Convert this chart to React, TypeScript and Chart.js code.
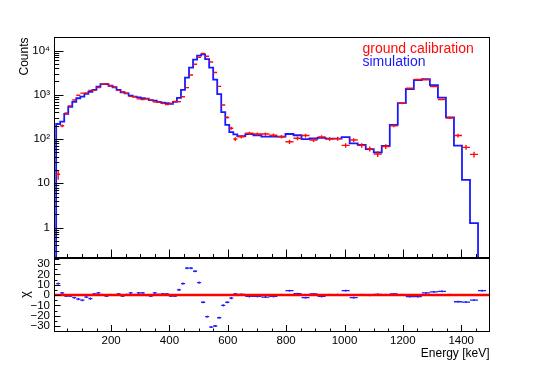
import React, { useEffect, useRef } from 'react';
import { Chart, registerables } from 'chart.js';

Chart.register(...registerables);

// ---------------- data ----------------
// bin edges in keV (variable binning: 45 narrow bins, then wide bins)
const binEdges = [
  11.7, 25.5, 39.3, 53.1, 66.9, 80.7, 94.5, 108.3, 122.1, 135.9,
  149.7, 163.5, 177.3, 191.1, 204.9, 218.7, 232.5, 246.3, 260.1, 273.9,
  287.7, 301.5, 315.3, 329.1, 342.9, 356.7, 370.5, 384.3, 398.1, 411.9,
  425.7, 439.5, 453.3, 467.1, 480.9, 494.7, 508.5, 522.3, 536.1, 549.9,
  563.7, 577.5, 591.3, 605.1, 618.9, 632.7,
  660.2, 687.7, 715.2, 742.7, 770.2, 797.7, 825.2, 852.7, 880.2, 907.7,
  935.2, 962.7, 990.2, 1017.7, 1045.2, 1072.7, 1100.2, 1127.7, 1155.2, 1182.7,
  1210.2, 1237.7, 1265.2, 1292.7, 1320.2, 1347.7, 1375.2, 1402.7, 1430.2, 1457.7,
  1485.2,
];

// simulation histogram (counts per bin)
const simCounts = [
  219, 247, 370, 537, 695, 835, 910, 1050, 1170, 1290,
  1520, 1750, 1750, 1600, 1480, 1290, 1140, 1080, 955, 910,
  875, 835, 815, 760, 735, 695, 665, 645, 625, 690,
  850, 1290, 2450, 4100, 6200, 7700, 8200, 6400, 4100, 2200,
  1030, 405, 208, 144, 127,
  117, 129, 122, 113, 113, 113, 130, 122, 100, 103,
  106, 102, 102, 110, 80, 74, 59, 50, 70, 208,
  645, 1350, 2150, 2270, 1660, 860, 310, 71, 12, 1.26,
];

// ground calibration measurement (counts per bin)
const calibCounts = [
  16, 200, 385, 560, 764, 980, 1090, 1100, 1260, 1260,
  1460, 1740, 1780, 1600, 1480, 1260, 1160, 1080, 920, 900,
  810, 780, 810, 760, 690, 680, 640, 605, 640, 710,
  700, 900, 1450, 2800, 4900, 7000, 8600, 7400, 5500, 3200,
  1550, 590, 308, 176, 100,
  113, 135, 130, 130, 122, 113, 87, 104, 120, 95,
  112, 100, 102, 72, 95, 72, 60, 46, 68, 198,
  640, 1410, 2220, 2180, 1540, 780, 300, 120, 65, 45,
];

// residuals (chi) per bin
const chiValues = [
  11, 2, -1, -1, -2.6, -4, -5, -2, -3.5, 1,
  2, 0.3, -1, 0.2, 0, 1, -1, 0.4, 2, 0.3,
  2, 2, -0.3, -1, 2, 0.5, 1, 1, -1, -1,
  5, 11, 26, 26, 23, 12, -7, -21, -31, -30,
  -22, -10, -7, -3, 1,
  0.7, -1.3, -1.3, -2, -1.3, 0.3, 4.2, 1.3, -2.6, 1,
  -1.3, 0.3, 0.2, 4.2, -2.6, 0.3, -0.3, 0.6, 0.2, 1,
  0.3, -1.6, -1.6, 2, 3, 3.6, 0.3, -6.5, -6.8, -4.9,
  4.2,
];

const energyTicks = [200, 400, 600, 800, 1000, 1200, 1400];
const countTicks = [1, 10, 100, 1000, 10000];
const countTickLabels = ['1', '10', '10²', '10³', '10⁴'];
const chiTicks = [-30, -20, -10, 0, 10, 20, 30];
const chiTickLabels = ['−30', '−20', '−10', '0', '10', '20', '30'];
const legendLabels = ['ground calibration', 'simulation'];

// ---------------- style / layout ----------------
const X_MIN = 6;
const X_MAX = 1497;
const Y_MIN = 0.2;
const Y_MAX = 19700;
const CHI_MIN = -35.3;
const CHI_MAX = 36.3;
const MINOR_STEP = 50;

const SIM_COLOR = 'rgb(25,25,255)';
const DATA_COLOR = 'rgb(255,10,10)';
const FONT = '"Liberation Sans", Arial, Helvetica, sans-serif';
const legendColors = [DATA_COLOR, SIM_COLOR];

Chart.defaults.font.family = FONT;
Chart.defaults.color = '#000';

function histPoints(vals: number[], floor: number) {
  const pts: any[] = [{ x: binEdges[0], y: floor }];
  vals.forEach((v, i) => pts.push({ x: binEdges[i], y: v }));
  pts.push({ x: binEdges[vals.length], y: floor });
  return pts;
}

function crossPoints(vals: number[], err: (v: number) => number) {
  const pts: any[] = [];
  vals.forEach((v, i) => {
    const lo = binEdges[i];
    const hi = binEdges[i + 1];
    const c = (lo + hi) / 2;
    const e = err(v);
    pts.push({ x: lo, y: v }, { x: hi, y: v }, { x: c, y: null });
    pts.push({ x: c, y: v - e }, { x: c, y: v + e }, { x: c, y: null });
  });
  return pts;
}

function fixBox(w: number | null, h: number | null) {
  return (s: any) => {
    if (w !== null) s.width = w;
    if (h !== null) s.height = h;
    s.paddingTop = 0;
    s.paddingBottom = 0;
    s.paddingLeft = 0;
    s.paddingRight = 0;
  };
}

function makeFramePlugin(id: string, xMaj: number, xMin: number, yTickFn: () => { v: number; len: number }[]) {
  return {
    id,
    afterDraw(chart: any) {
      const { ctx, chartArea: a } = chart;
      const xs = chart.scales.x;
      const ys = chart.scales.y;
      ctx.save();
      ctx.strokeStyle = '#000';
      ctx.lineWidth = 1;
      ctx.beginPath();
      for (let e = MINOR_STEP; e < X_MAX; e += MINOR_STEP) {
        if (e <= X_MIN) continue;
        const px = Math.round(xs.getPixelForValue(e)) + 0.5;
        const len = e % 200 === 0 ? xMaj : xMin;
        ctx.moveTo(px, a.bottom);
        ctx.lineTo(px, a.bottom - len);
      }
      for (const t of yTickFn()) {
        const py = Math.round(ys.getPixelForValue(t.v)) + 0.5;
        ctx.moveTo(a.left, py);
        ctx.lineTo(a.left + t.len, py);
      }
      ctx.stroke();
      ctx.strokeRect(a.left, a.top, a.right - a.left, a.bottom - a.top);
      ctx.restore();
    },
  };
}

const topFrame = makeFramePlugin('topFrame', 9, 4.5, () => {
  const out: { v: number; len: number }[] = [];
  for (let d = 0.1; d <= 10000; d *= 10) {
    for (let m = 1; m <= 9; m++) {
      const v = m * d;
      if (v < Y_MIN || v > Y_MAX) continue;
      out.push({ v, len: m === 1 ? 9 : 4.7 });
    }
  }
  return out;
});

const bottomFrame = makeFramePlugin('bottomFrame', 6.5, 3, () => {
  const out: { v: number; len: number }[] = [];
  for (let v = -35; v <= 35; v += 5) {
    if (v < CHI_MIN || v > CHI_MAX) continue;
    out.push({ v, len: v % 10 === 0 ? 6 : 3 });
  }
  return out;
});

const legendPlugin = {
  id: 'rootLegend',
  afterDraw(chart: any) {
    const ctx = chart.ctx;
    ctx.save();
    ctx.font = '14px ' + FONT;
    ctx.textAlign = 'left';
    ctx.textBaseline = 'alphabetic';
    legendLabels.forEach((t, i) => {
      ctx.fillStyle = legendColors[i];
      ctx.fillText(t, 362.5, 53 + i * 12.6);
    });
    ctx.restore();
  },
};

const noGrid = { display: false, drawTicks: false };

function topConfig(): any {
  return {
    type: 'line',
    data: {
      datasets: [
        {
          label: legendLabels[0],
          data: crossPoints(calibCounts, (v) => Math.sqrt(v)),
          borderColor: DATA_COLOR,
          borderWidth: 1.4,
          pointRadius: 0,
          spanGaps: false,
          fill: false,
        },
        {
          label: legendLabels[1],
          data: histPoints(simCounts, 0.02),
          stepped: 'before',
          borderColor: SIM_COLOR,
          borderWidth: 1.8,
          pointRadius: 0,
          fill: false,
        },
      ],
    },
    options: {
      responsive: false,
      maintainAspectRatio: false,
      animation: false,
      events: [],
      layout: { padding: { top: 37.5, right: 55.5, bottom: 0, left: 0 } },
      plugins: { legend: { display: false }, tooltip: { enabled: false }, title: { display: false } },
      scales: {
        x: {
          type: 'linear',
          min: X_MIN,
          max: X_MAX,
          grid: noGrid,
          border: { display: false },
          ticks: { display: false },
          afterFit: fixBox(null, 3.5),
        },
        y: {
          type: 'logarithmic',
          min: Y_MIN,
          max: Y_MAX,
          grid: noGrid,
          border: { display: false },
          afterBuildTicks: (s: any) => { s.ticks = countTicks.map((v) => ({ value: v })); },
          ticks: {
            callback: (_v: any, i: number) => countTickLabels[i],
            font: { size: 11.5 },
            padding: 4.5,
            autoSkip: false,
            color: '#000',
          },
          title: { display: true, text: 'Counts', align: 'end', font: { size: 12 }, padding: { top: 17.3, bottom: 0 }, color: '#000' },
          afterFit: fixBox(54.5, null),
        },
      },
    },
    plugins: [topFrame, legendPlugin],
  };
}

function bottomConfig(): any {
  return {
    type: 'line',
    data: {
      datasets: [
        {
          label: 'zero',
          data: [{ x: X_MIN, y: 0 }, { x: X_MAX, y: 0 }],
          borderColor: 'rgb(255,0,0)',
          borderWidth: 2.4,
          pointRadius: 0,
          fill: false,
        },
        {
          label: 'chi',
          data: crossPoints(chiValues, () => 1),
          borderColor: 'rgb(30,30,255)',
          borderWidth: 1.3,
          pointRadius: 0,
          spanGaps: false,
          fill: false,
        },
      ],
    },
    options: {
      responsive: false,
      maintainAspectRatio: false,
      animation: false,
      events: [],
      layout: { padding: { top: 7.5, right: 55.5, bottom: 0, left: 0 } },
      plugins: { legend: { display: false }, tooltip: { enabled: false }, title: { display: false } },
      scales: {
        x: {
          type: 'linear',
          min: X_MIN,
          max: X_MAX,
          grid: noGrid,
          border: { display: false },
          afterBuildTicks: (s: any) => { s.ticks = energyTicks.map((v) => ({ value: v })); },
          ticks: { callback: (v: any) => String(v), font: { size: 11.5 }, padding: 2, maxRotation: 0, autoSkip: false, color: '#000' },
          title: { display: true, text: 'Energy [keV]', align: 'end', font: { size: 12 }, padding: { top: 0, bottom: 9.3 }, color: '#000' },
          afterFit: fixBox(null, 38.5),
        },
        y: {
          type: 'linear',
          min: CHI_MIN,
          max: CHI_MAX,
          grid: noGrid,
          border: { display: false },
          afterBuildTicks: (s: any) => { s.ticks = chiTicks.map((v) => ({ value: v })); },
          ticks: { callback: (_v: any, i: number) => chiTickLabels[i], font: { size: 11.5 }, padding: 4.5, autoSkip: false, color: '#000' },
          title: { display: true, text: 'χ', align: 'center', font: { size: 13 }, padding: { top: 17.2, bottom: 0 }, color: '#000' },
          afterFit: fixBox(54.5, null),
        },
      },
    },
    plugins: [bottomFrame],
  };
}

export default function App() {
  const topRef = useRef<HTMLCanvasElement>(null);
  const botRef = useRef<HTMLCanvasElement>(null);

  useEffect(() => {
    const top = new Chart(topRef.current as HTMLCanvasElement, topConfig());
    const bot = new Chart(botRef.current as HTMLCanvasElement, bottomConfig());
    return () => {
      top.destroy();
      bot.destroy();
    };
  }, []);

  return (
    <div style={{ position: 'absolute', left: 0, top: 0, width: 545, height: 370, background: '#fff', overflow: 'hidden' }}>
      <canvas ref={topRef} width={545} height={262} style={{ position: 'absolute', left: 0, top: 0 }} />
      <canvas ref={botRef} width={545} height={120} style={{ position: 'absolute', left: 0, top: 250 }} />
    </div>
  );
}
